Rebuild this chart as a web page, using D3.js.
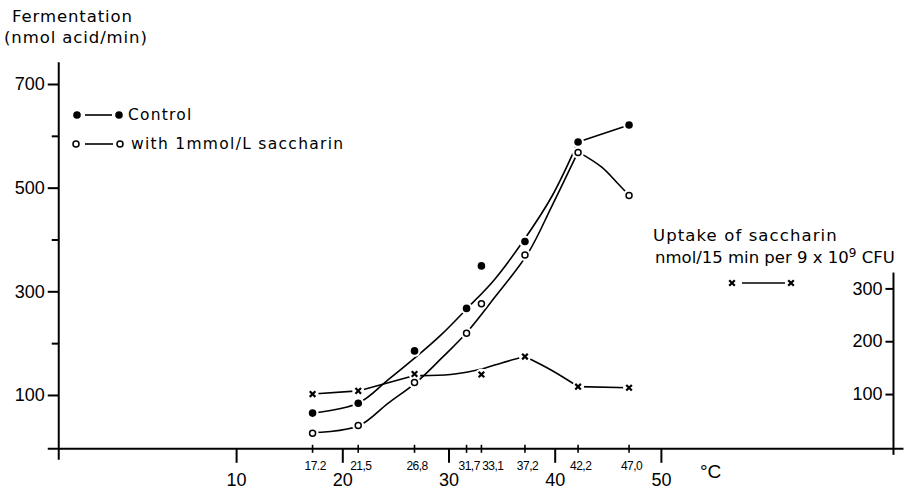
<!DOCTYPE html>
<html><head><meta charset="utf-8">
<script src="https://cdn.jsdelivr.net/npm/d3@7/dist/d3.min.js"></script>
<style>body{margin:0;background:#fff} svg{display:block}</style>
</head><body>
<svg id="c" width="909" height="489"></svg>
<script>
// ---- data ----
const temps = [17.2, 21.5, 26.8, 31.7, 33.1, 37.2, 42.2, 47.0];
const tempLabels = ["17.2", "21,5", "26,8", "31,7", "33,1", "37,2", "42,2", "47,0"];
const majorTicks = [10, 20, 30, 40, 50];
const leftTicks = [100, 300, 500, 700];
const leftMinorTicks = [200, 400, 600];
const rightTicks = [100, 200, 300];
const control = [65, 84, 185, 267, 349, 396, 588, 621];
const saccharin = [26, 41, 124, 219, 276, 370, 568, 485];
const uptakeTemps = [17.2, 21.5, 26.8, 33.1, 37.2, 42.2, 47.0];
const uptake = [100, 106, 138, 137, 171, 114, 112];
// hand-drawn fitted curves
const controlCurveT = [17.2, 21.5, 24.3, 26.8, 29.3, 31.8, 34.3, 37.1, 39.7, 42.2];
const controlCurveV = [65, 84, 129, 171, 216, 268, 322, 399, 482, 588];
const controlTailT = [42.2, 47.0];
const controlTailV = [588, 621];
const saccCurveT = [17.2, 21.5, 24.3, 27.0, 29.3, 31.7, 34.3, 37.5, 39.7, 42.2];
const saccCurveV = [27, 40, 84, 125, 170, 220, 287, 374, 463, 569];
const saccTailT = [42.2, 44.4, 45.9, 47.0];
const saccTailV = [569, 540, 509, 485];
const uptakeSeg1T = [17.2, 21.5, 26.8];
const uptakeSeg1V = [100, 106, 135];
const uptakeSeg2T = [26.8, 30.2, 33.4, 35.0, 37.2];
const uptakeSeg2V = [135, 137, 149, 159, 171];
const uptakeSeg3T = [37.2, 39.7, 42.2];
const uptakeSeg3V = [171, 145, 114];
const uptakeSeg4T = [42.2, 47.0];
const uptakeSeg4V = [114, 112];

// ---- scales ----
const svg = d3.select("#c");
const x = d3.scaleLinear().domain([10, 50]).range([236.1, 660.9]);
const yL = d3.scaleLinear().domain([0, 700]).range([446.8, 84]);
const yR = d3.scaleLinear().domain([0, 300]).range([446.9, 288.4]);
const xLeftEdge = -6.7, xRightEdge = 71.9;
const numFont = "'Liberation Sans', Arial, sans-serif";
const txtFont = "'DejaVu Sans', sans-serif";

// ---- axes ----
const axisY0 = yL(0) + 2;
svg.append("line").attr("x1", x(xLeftEdge) - 11).attr("x2", x(xRightEdge) + 10)
  .attr("y1", axisY0).attr("y2", axisY0).attr("stroke", "#000").attr("stroke-width", 2);
svg.append("line").attr("x1", x(xLeftEdge)).attr("x2", x(xLeftEdge))
  .attr("y1", yL(742)).attr("y2", yL(-25)).attr("stroke", "#000").attr("stroke-width", 2);
svg.append("line").attr("x1", x(xRightEdge)).attr("x2", x(xRightEdge))
  .attr("y1", yR(330)).attr("y2", yR(-15)).attr("stroke", "#000").attr("stroke-width", 2);

const gL = svg.append("g").attr("transform", `translate(${x(xLeftEdge)},0)`)
  .call(d3.axisLeft(yL).tickValues(leftTicks).tickSize(11).tickPadding(3).tickFormat(d3.format("d")));
const gLm = svg.append("g").attr("transform", `translate(${x(xLeftEdge)},0)`)
  .call(d3.axisLeft(yL).tickValues(leftMinorTicks).tickSize(7).tickFormat(""));
const gR = svg.append("g").attr("transform", `translate(${x(xRightEdge)},0)`)
  .call(d3.axisLeft(yR).tickValues(rightTicks).tickSize(8).tickPadding(3).tickFormat(d3.format("d")));
const gB = svg.append("g").attr("transform", `translate(0,${axisY0})`)
  .call(d3.axisBottom(x).tickValues(majorTicks).tickSize(14).tickPadding(10).tickFormat(d3.format("d")));
[gL, gLm, gR, gB].forEach(g => {
  g.select(".domain").remove();
  g.selectAll("line").attr("stroke", "#000").attr("stroke-width", 2);
  g.selectAll("text").attr("font-family", numFont).attr("font-size", 18).attr("fill", "#000");
});

// temperature sub ticks + labels (labels pushed right when they would collide)
const sub = svg.append("g");
sub.selectAll("line").data(temps).join("line")
  .attr("x1", d => x(d)).attr("x2", d => x(d))
  .attr("y1", axisY0 - 4).attr("y2", axisY0 + 4)
  .attr("stroke", "#000").attr("stroke-width", 1.6);
const subText = sub.selectAll("text").data(temps).join("text")
  .attr("y", axisY0 + 21)
  .attr("text-anchor", "start").attr("font-family", numFont).attr("font-size", 12)
  .attr("letter-spacing", -0.5)
  .text((d, i) => tempLabels[i]);
let prevRight = -Infinity;
subText.each(function (d) {
  const w = this.getBBox().width;
  let left = x(d) + 3 - w / 2;
  if (left < prevRight + 1.5) left = prevRight + 1.5;
  d3.select(this).attr("x", left);
  prevRight = left + w;
});

svg.append("text").attr("x", 700).attr("y", 478).attr("font-family", numFont)
  .attr("font-size", 19).text("°C");

// ---- titles ----
const t1 = svg.append("g").attr("font-family", txtFont).attr("font-size", 16.5).attr("letter-spacing", 0.9);
t1.append("text").attr("x", 12).attr("y", 22).text("Fermentation");
t1.append("text").attr("x", 4).attr("y", 43).text("(nmol acid/min)");

const t2 = svg.append("g").attr("font-family", txtFont).attr("font-size", 16.5);
t2.append("text").attr("x", 653).attr("y", 241).attr("letter-spacing", 1.1).text("Uptake of saccharin");
const l2 = t2.append("text").attr("x", 655).attr("y", 263).attr("letter-spacing", 0);
l2.append("tspan").text("nmol/15 min per 9 x 10");
l2.append("tspan").attr("dy", -6).attr("font-size", 12).text("9");
l2.append("tspan").attr("dy", 6).text(" CFU");

// ---- curves ----
function pts(T, V, ys) { return T.map((t, i) => [x(t), ys(V[i])]); }
const curveGen = d3.line().curve(d3.curveCatmullRom.alpha(0.5));
const linGen = d3.line();
const curves = svg.append("g").attr("fill", "none").attr("stroke", "#000").attr("stroke-width", 1.6);
curves.append("path").attr("d", curveGen(pts(controlCurveT, controlCurveV, yL)));
curves.append("path").attr("d", linGen(pts(controlTailT, controlTailV, yL)));
curves.append("path").attr("d", curveGen(pts(saccCurveT, saccCurveV, yL)));
curves.append("path").attr("d", curveGen(pts(saccTailT, saccTailV, yL)));
curves.append("path").attr("d", linGen(pts(uptakeSeg1T, uptakeSeg1V, yR)));
curves.append("path").attr("d", curveGen(pts(uptakeSeg2T, uptakeSeg2V, yR)));
curves.append("path").attr("d", curveGen(pts(uptakeSeg3T, uptakeSeg3V, yR)));
curves.append("path").attr("d", linGen(pts(uptakeSeg4T, uptakeSeg4V, yR)));

// ---- markers (white halo gives the gaps of the drawing) ----
const ctrlPts = temps.map((t, i) => [x(t), yL(control[i])]);
const saccPts = temps.map((t, i) => [x(t), yL(saccharin[i])]);
const upPts = uptakeTemps.map((t, i) => [x(t), yR(uptake[i])]);
const halo = svg.append("g").attr("fill", "#fff");
[...ctrlPts, ...saccPts, ...upPts].forEach(p =>
  halo.append("circle").attr("cx", p[0]).attr("cy", p[1]).attr("r", 6));

function filledDot(g, p) { g.append("circle").attr("cx", p[0]).attr("cy", p[1]).attr("r", 3.8).attr("fill", "#000"); }
function openDot(g, p) { g.append("circle").attr("cx", p[0]).attr("cy", p[1]).attr("r", 3).attr("fill", "#fff").attr("stroke", "#000").attr("stroke-width", 1.5); }
function xMark(g, p) {
  const s = 2.8;
  g.append("path").attr("d", `M${p[0]-s},${p[1]-s}L${p[0]+s},${p[1]+s}M${p[0]-s},${p[1]+s}L${p[0]+s},${p[1]-s}`)
    .attr("stroke", "#000").attr("stroke-width", 2.2).attr("fill", "none");
}
const mk = svg.append("g");
ctrlPts.forEach(p => filledDot(mk, p));
saccPts.forEach(p => openDot(mk, p));
upPts.forEach(p => xMark(mk, p));

// ---- legends ----
const lg = svg.append("g");
filledDot(lg, [77, 115]); filledDot(lg, [119, 115]);
lg.append("line").attr("x1", 85).attr("x2", 112).attr("y1", 115).attr("y2", 115).attr("stroke", "#000").attr("stroke-width", 1.6);
lg.append("text").attr("x", 128).attr("y", 120).attr("font-family", txtFont).attr("font-size", 15.5)
  .attr("letter-spacing", 1.2).text("Control");
openDot(lg, [76, 144]); openDot(lg, [120, 144]);
lg.append("line").attr("x1", 85).attr("x2", 113).attr("y1", 144).attr("y2", 144).attr("stroke", "#000").attr("stroke-width", 1.6);
lg.append("text").attr("x", 131).attr("y", 149).attr("font-family", txtFont).attr("font-size", 15.5)
  .attr("letter-spacing", 1.3).text("with 1mmol/L saccharin");
xMark(lg, [732, 283]); xMark(lg, [791, 283]);
lg.append("line").attr("x1", 742).attr("x2", 785).attr("y1", 283).attr("y2", 283).attr("stroke", "#000").attr("stroke-width", 1.6);
</script>
</body></html>
